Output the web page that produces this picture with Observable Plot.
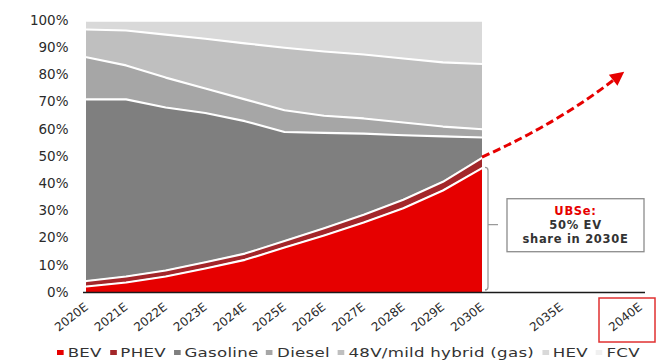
<!DOCTYPE html>
<html>
<head>
<meta charset="utf-8">
<script src="https://cdn.jsdelivr.net/npm/d3@7"></script>
<script src="https://cdn.jsdelivr.net/npm/@observablehq/plot@0.6"></script>
<style>
  body { margin: 0; background: #fff; font-family: "DejaVu Sans", sans-serif; }
  #wrap { position: relative; width: 658px; height: 363px; overflow: hidden; }
  #legend {
    position: absolute; left: 57px; top: 343px; height: 18px;
    display: flex; align-items: center; white-space: nowrap;
    font-size: 12.5px; color: #333; letter-spacing: 0.2px;
    transform: scaleX(1.33); transform-origin: left center;
  }
  #legend .item { display: flex; align-items: center; margin-right: 6px; }
  #legend .sw { width: 5px; height: 5px; margin-right: 3px; display: inline-block; }
</style>
</head>
<body>
<div id="wrap">
  <div id="chart"></div>
  <div id="legend"></div>
</div>
<script>
// Global powertrain mix, share of new car sales (%)
const years = [2020, 2021, 2022, 2023, 2024, 2025, 2026, 2027, 2028, 2029, 2030];
const seriesNames = ["BEV", "PHEV", "Gasoline", "Diesel", "48V/mild hybrid  (gas)", "HEV", "FCV"];
const seriesColors = ["#e60000", "#a3262a", "#7f7f7f", "#a6a6a6", "#bfbfbf", "#d9d9d9", "#f0f0f0"];

const bev      = [2.2, 3.7, 5.9, 8.8, 12.0, 16.5, 21.0, 25.7, 31.0, 37.5, 45.8];
const phev     = [2.0, 2.2, 2.2, 2.3, 2.3, 2.4, 2.6, 2.9, 3.1, 3.2, 3.8];
const gasoline = [66.8, 65.1, 59.9, 54.9, 48.7, 40.1, 35.1, 29.8, 23.7, 16.7, 7.4];
const diesel   = [15.5, 12.5, 11.0, 9.0, 8.0, 8.0, 6.3, 5.6, 4.7, 3.6, 3.0];
const mildHybrid = [10.2, 12.8, 15.8, 18.3, 20.6, 23.0, 23.6, 23.5, 23.5, 23.6, 24.0];
const hev      = [3.3, 3.7, 5.2, 6.7, 8.4, 10.0, 11.4, 12.5, 14.0, 15.4, 16.0];
const fcv      = [0, 0, 0, 0, 0, 0, 0, 0, 0, 0, 0];

// Axis ticks
const xTicks = [2020, 2021, 2022, 2023, 2024, 2025, 2026, 2027, 2028, 2029, 2030, 2035, 2040];
const yTicks = [0, 10, 20, 30, 40, 50, 60, 70, 80, 90, 100];

// EV outlook beyond 2030
const outlookYear = 2039;
const outlookShare = 81;

const seriesValues = [bev, phev, gasoline, diesel, mildHybrid, hev, fcv];
const rows = [];
seriesNames.forEach((name, i) => {
  years.forEach((year, j) => rows.push({series: name, year, share: seriesValues[i][j]}));
});

const font = '"DejaVu Sans", sans-serif';

const plot = Plot.plot({
  width: 658,
  height: 343,
  marginLeft: 83,
  marginRight: 13,
  marginTop: 20,
  marginBottom: 51,
  style: {fontFamily: font, fontSize: "13.5px", color: "#333", background: "#fff", overflow: "visible"},
  x: {type: "linear", domain: [2020, 2030, 2040], range: [86, 482, 640]},
  y: {domain: [0, 100]},
  color: {domain: seriesNames, range: seriesColors},
  marks: [
    Plot.areaY(rows, {x: "year", y: "share", z: "series", fill: "series", order: seriesNames}),
    Plot.lineY(rows, Plot.stackY2({x: "year", y: "share", z: "series", order: seriesNames,
      stroke: "#fff", strokeWidth: 2.1})),
    Plot.ruleY([0], {stroke: "#1a1a1a", strokeWidth: 1.6}),
    Plot.axisY({ticks: yTicks, tickFormat: d => d + "%", tickSize: 0, tickPadding: 15,
      label: null, fill: "#2b2b2b", letterSpacing: 2.2}),
    Plot.axisX({ticks: xTicks, tickFormat: d => d + "E", tickSize: 0, tickPadding: 13,
      tickRotate: -38, label: null, fill: "#2b2b2b", fontSize: 12, letterSpacing: 1.8})
  ]
});

document.getElementById("chart").appendChild(plot);

// Annotations drawn with the plot's own scales
const sx = v => plot.scale("x").apply(v);
const sy = v => plot.scale("y").apply(v);
const svg = d3.select(plot);
const last = years.length - 1;
const evShare2030 = bev[last] + phev[last];

// bracket spanning the 2030 BEV share
const bx = sx(years[last]) + 6;
const yTop = sy(bev[last]);
const yBot = sy(0) - 2;
const yMid = (yTop + yBot) / 2;
svg.append("path")
  .attr("d", `M${bx - 3},${yTop} Q${bx},${yTop} ${bx},${yTop + 3} L${bx},${yBot - 3} Q${bx},${yBot} ${bx - 3},${yBot} M${bx},${yMid - 4} L${bx + 10},${yMid - 4}`)
  .attr("fill", "none").attr("stroke", "#9a9a9a").attr("stroke-width", 1.3);

// call-out box
const boxX = bx + 19, boxW = 137, boxY = yMid - 30, boxH = 53;
svg.append("rect")
  .attr("x", boxX).attr("y", boxY).attr("width", boxW).attr("height", boxH)
  .attr("fill", "#fff").attr("stroke", "#8c8c8c").attr("stroke-width", 1.3);
const lines = [
  {text: "UBSe:", color: "#e60000"},
  {text: Math.round(evShare2030) + "% EV", color: "#333"},
  {text: "share in 2030E", color: "#333"}
];
lines.forEach((l, i) => {
  svg.append("text")
    .attr("x", boxX + boxW / 2).attr("y", boxY + 13 + i * 14)
    .attr("text-anchor", "middle").attr("dominant-baseline", "middle")
    .attr("font-family", font).attr("font-size", 11.5).attr("font-weight", "bold")
    .attr("letter-spacing", 0.7).attr("fill", l.color).text(l.text);
});

// dashed trend arrow from the 2030 EV share
const p0 = [sx(years[last]), sy(evShare2030)];
const p2 = [sx(outlookYear), sy(outlookShare)];
const mx = (p0[0] + p2[0]) / 2, my = (p0[1] + p2[1]) / 2;
const dx = p2[0] - p0[0], dy = p2[1] - p0[1];
const len = Math.hypot(dx, dy);
const nx = -dy / len, ny = dx / len; // perpendicular (toward lower right)
const bend = 10;
const c = [mx + nx * bend, my + ny * bend];
const tx = p2[0] - c[0], ty = p2[1] - c[1];
const tl = Math.hypot(tx, ty);
const ux = tx / tl, uy = ty / tl;
const headLen = 14, headHalf = 7;
const base = [p2[0] - ux * headLen, p2[1] - uy * headLen];
svg.append("path")
  .attr("d", `M${p0[0]},${p0[1]} Q${c[0]},${c[1]} ${base[0] + ux * 2},${base[1] + uy * 2}`)
  .attr("fill", "none").attr("stroke", "#e60000").attr("stroke-width", 3)
  .attr("stroke-dasharray", "8,4");
svg.append("path")
  .attr("d", `M${p2[0]},${p2[1]} L${base[0] - uy * headHalf},${base[1] + ux * headHalf} L${base[0] + uy * headHalf},${base[1] - ux * headHalf} Z`)
  .attr("fill", "#e60000");

// highlight box round the 2040E label
const hx = sx(2040);
svg.append("rect")
  .attr("x", hx - 41).attr("y", sy(0) + 6).attr("width", 56).attr("height", 44)
  .attr("fill", "none").attr("stroke", "#e03030").attr("stroke-width", 1.5);

// legend
const legend = d3.select("#legend");
seriesNames.forEach((name, i) => {
  const item = legend.append("span").attr("class", "item");
  item.append("span").attr("class", "sw").style("background", seriesColors[i]);
  item.append("span").text(name);
});
</script>
</body>
</html>
